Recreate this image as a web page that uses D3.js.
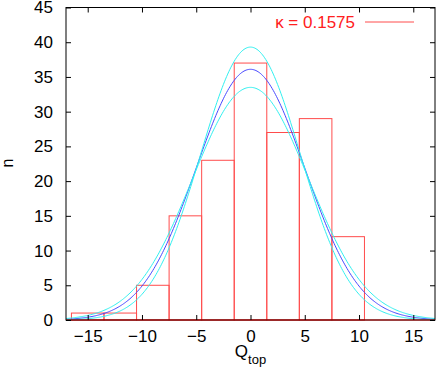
<!DOCTYPE html>
<html>
<head>
<meta charset="utf-8">
<script src="https://cdn.jsdelivr.net/npm/d3@7"></script>
<style>
  body { margin: 0; background: #fff; }
  svg text { font-family: "Liberation Sans", Arial, sans-serif; }
</style>
</head>
<body>
<div id="chart"></div>
<script>
// histogram bins (left edge, right edge, count)
const binLeft = [-16.5, -13.5, -10.5, -7.5, -4.5, -1.5, 1.5, 4.5, 7.5];
const binRight = [-13.5, -10.5, -7.5, -4.5, -1.5, 1.5, 4.5, 7.5, 10.5];
const counts = [1, 1, 5, 15, 23, 37, 27, 29, 12];

// gaussian fits: amplitude, mean, sigma
const fitNames = ["fit", "fitHigh", "fitLow"];
const fitAmp = [36.1, 39.3, 33.5];
const fitMean = [0, 0, 0];
const fitSigma = [5.0, 4.6, 5.35];
const fitColors = ["#4848ff", "#30f0f0", "#30f0f0"];

const xTicks = [-15, -10, -5, 0, 5, 10, 15];
const yTicks = [0, 5, 10, 15, 20, 25, 30, 35, 40, 45];
const legendLabel = "\u03ba = 0.1575";

const W = 436, H = 369;
const margin = { top: 7.5, right: 1, bottom: 49, left: 66 };
const width = W - margin.left - margin.right,
  height = H - margin.top - margin.bottom;

const svg = d3
  .select("#chart")
  .append("svg")
  .attr("width", W)
  .attr("height", H);

const g = svg.append("g")
  .attr("transform", `translate(${margin.left},${margin.top})`);

const x = d3.scaleLinear().domain([-17, 17]).range([0, width]);
const y = d3.scaleLinear().domain([0, 45]).range([height, 0]);

// bars
const bins = counts.map((c, i) => ({ x0: binLeft[i], x1: binRight[i], n: c }));
g.selectAll("rect.bar")
  .data(bins)
  .enter()
  .append("rect")
  .attr("class", "bar")
  .attr("x", (d) => x(d.x0))
  .attr("y", (d) => y(d.n))
  .attr("width", (d) => x(d.x1) - x(d.x0))
  .attr("height", (d) => y(0) - y(d.n))
  .style("fill", "none")
  .style("stroke", "#ff4c4c")
  .style("stroke-width", 1);

// fitted curves
const xs = d3.range(-17, 17.001, 0.1);
const line = d3.line().x((d) => x(d[0])).y((d) => y(d[1]));
fitNames.forEach((name, i) => {
  const pts = xs.map((v) => [v, fitAmp[i] * Math.exp(-((v - fitMean[i]) ** 2) / (2 * fitSigma[i] ** 2))]);
  g.append("path")
    .datum(pts)
    .attr("d", line)
    .style("fill", "none")
    .style("stroke", fitColors[i])
    .style("stroke-width", 1);
});

// border
g.append("rect")
  .attr("x", 0).attr("y", 0)
  .attr("width", width).attr("height", height)
  .style("fill", "none")
  .style("stroke", "#000")
  .style("stroke-width", 1);
g.append("line")
  .attr("x1", 0).attr("x2", width)
  .attr("y1", height).attr("y2", height)
  .style("stroke", "#b80000");

// axes with inward ticks, mirrored
const tk = 5;
g.append("g")
  .attr("transform", `translate(0,${height})`)
  .call(d3.axisBottom(x).tickValues(xTicks).tickSizeInner(-tk).tickSizeOuter(0).tickPadding(10).tickFormat(d3.format("d")))
  .call((a) => a.select(".domain").remove());
g.append("g")
  .call(d3.axisTop(x).tickValues(xTicks).tickSizeInner(-tk).tickSizeOuter(0).tickFormat(""))
  .call((a) => a.select(".domain").remove());
g.append("g")
  .call(d3.axisLeft(y).tickValues(yTicks).tickSizeInner(-tk).tickSizeOuter(0).tickPadding(13).tickFormat(d3.format("d")))
  .call((a) => a.select(".domain").remove());
g.append("g")
  .attr("transform", `translate(${width},0)`)
  .call(d3.axisRight(y).tickValues(yTicks).tickSizeInner(-tk).tickSizeOuter(0).tickFormat(""))
  .call((a) => a.select(".domain").remove());

g.selectAll(".tick text")
  .style("font-size", "17px")
  .style("fill", "#000");
g.selectAll(".tick line").style("stroke", "#000");

// axis labels
const xl = svg.append("text")
  .attr("x", margin.left + width / 2)
  .attr("y", 357)
  .style("text-anchor", "middle")
  .style("font-size", "17px");
xl.append("tspan").text("Q");
xl.append("tspan").attr("dy", 7).style("font-size", "13px").text("top");

svg.append("text")
  .attr("transform", "translate(13,163) rotate(-90)")
  .style("text-anchor", "middle")
  .style("font-size", "16px")
  .text("n");

// legend
svg.append("text")
  .attr("x", 355)
  .attr("y", 27.5)
  .style("text-anchor", "end")
  .style("font-size", "17px")
  .style("fill", "#ff2020")
  .text(legendLabel);
svg.append("line")
  .attr("x1", 365).attr("x2", 414)
  .attr("y1", 22).attr("y2", 22)
  .style("stroke", "#ff4c4c")
  .style("stroke-width", 1);
</script>
</body>
</html>
